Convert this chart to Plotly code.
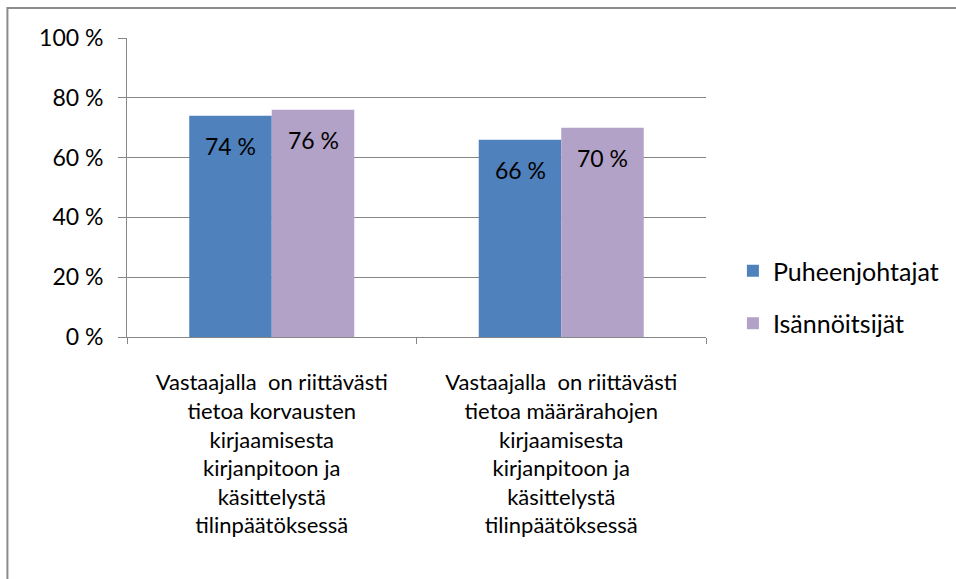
import plotly.graph_objects as go

categories = [
    "Vastaajalla  on riittävästi<br>tietoa korvausten<br>kirjaamisesta<br>kirjanpitoon ja<br>käsittelystä<br>tilinpäätöksessä",
    "Vastaajalla  on riittävästi<br>tietoa määrärahojen<br>kirjaamisesta<br>kirjanpitoon ja<br>käsittelystä<br>tilinpäätöksessä",
]
series_names = ["Puheenjohtajat", "Isännöitsijät"]
puheenjohtajat = [74, 66]
isannoitsijat = [76, 70]
series_values = [puheenjohtajat, isannoitsijat]
colors = ["#4F81BD", "#B3A2C7"]
y_ticks = [0, 20, 40, 60, 80, 100]
y_tick_labels = ["0 %", "20 %", "40 %", "60 %", "80 %", "100 %"]

FONT = "Lato"
BARGAP = 0.43
n_series = len(series_names)
bar_w = (1 - BARGAP) / n_series

fig = go.Figure()
annotations = []
for k, (name, vals, col) in enumerate(zip(series_names, series_values, colors)):
    fig.add_trace(go.Bar(
        x=categories, y=vals, name=name, legendgroup=name,
        marker=dict(color=col, line=dict(width=0)),
        hoverinfo="x+y",
    ))
    offset = (k - (n_series - 1) / 2) * bar_w
    for i, v in enumerate(vals):
        annotations.append(dict(
            x=i + offset, y=v, xref="x", yref="y",
            text=f"{v} %", showarrow=False, yshift=-30,
            font=dict(family=FONT, size=23, color="black"),
        ))

W, H = 956, 579
L, R, T, B = 127, 248, 38, 242
pw, ph = W - L - R, H - T - B

fig.update_layout(
    width=W, height=H,
    margin=dict(l=L, r=R, t=T, b=B),
    paper_bgcolor="white", plot_bgcolor="white",
    barmode="group", bargap=BARGAP, bargroupgap=0,
    font=dict(family=FONT, size=20, color="black"),
    legend=dict(
        x=(735 - L) / pw, y=(H - B - 297) / ph, xanchor="left", yanchor="middle",
        font=dict(family=FONT, size=25, color="black"),
        tracegroupgap=17,
        bgcolor="rgba(0,0,0,0)",
    ),
    showlegend=True,
    annotations=annotations,
    xaxis=dict(
        type="category",
        showline=True, linecolor="#868686", linewidth=1,
        ticks="outside", ticklen=6, tickcolor="#868686",
        tickson="boundaries",
        ticklabelstandoff=26,
        tickfont=dict(family=FONT, size=22, color="black"),
        showgrid=False,
    ),
    yaxis=dict(
        range=[0, 100],
        tickvals=y_ticks, ticktext=y_tick_labels,
        showline=True, linecolor="#868686", linewidth=1,
        ticks="outside", ticklen=8, tickcolor="#868686",
        ticklabelstandoff=10,
        showgrid=True, gridcolor="#868686", gridwidth=1,
        zeroline=False,
        tickfont=dict(family=FONT, size=23, color="black"),
    ),
    shapes=[dict(
        type="rect", xref="paper", yref="paper",
        x0=(7 - L) / pw, x1=1.6, y0=-1.5, y1=1 + (T - 8) / ph,
        line=dict(color="#8C8C8C", width=2), fillcolor="rgba(0,0,0,0)",
        layer="below",
    )],
)

fig.write_html(
    "out.html",
    config={"displayModeBar": False},
    post_script="document.body.style.margin='0';document.body.style.overflow='hidden';",
)
